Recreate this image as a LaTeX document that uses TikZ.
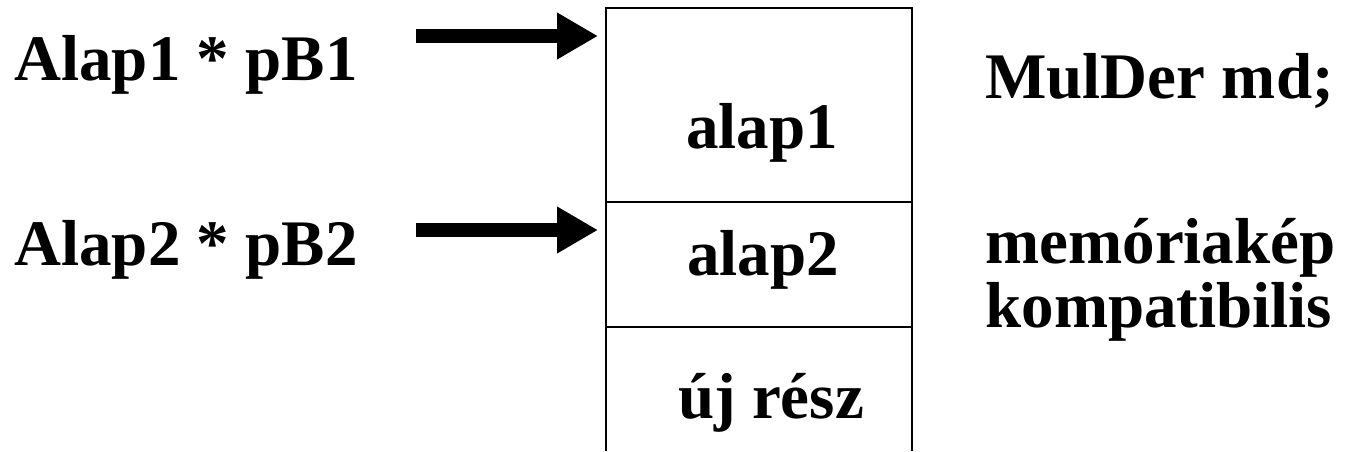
\documentclass[tikz,border=0pt]{standalone}
\usepackage{fontspec}
\setmainfont{Liberation Serif}
\usepackage{tikz}
\usetikzlibrary{positioning,arrows.meta}

\begin{document}
\begin{tikzpicture}[%
x=0.5pt,y=-0.5pt,%
cell/.style={draw,line width=1.4pt,minimum width=153pt,outer sep=0pt,inner sep=0pt},%
lbl/.style={font=\fontsize{32.5}{32}\selectfont\bfseries,inner sep=0pt},%
fat/.style={line width=7pt,-{Triangle[length=20.5pt,width=22pt]},shorten >=4pt},%
node distance=0pt,%
  ]
    \useasboundingbox (0,0) rectangle (1346,451);

    % memory layout of the object
    \node[cell, minimum height=97pt] (c1) at (759,105) {};
    \node[cell, minimum height=62.5pt] (c2) [below=of c1] {};
    \coordinate (bl) at (c2.south west |- 0,451);
    \coordinate (br) at (c2.south east |- 0,451);
    \draw[line width=1.4pt] (c2.south west) -- (bl);
    \draw[line width=1.4pt] (c2.south east) -- (br);

    \node[lbl, anchor=base] (t1) at (762,148) {alap1};
    \node[lbl, anchor=base] (t2) at (763,275) {alap2};
    \node[lbl, anchor=base] (t3) at (771,418) {új rész};

    % pointers
    \node[lbl, anchor=base west] (p1) at (14,80) {Alap1 * pB1};
    \node[lbl, anchor=base west] (p2) at (14,265) {Alap2 * pB2};

    \coordinate (s1) at (416,36);
    \coordinate (s2) at (416,230);
        \draw[fat] (s1) -- (c1.west |- s1);
        \draw[fat] (s2) -- (c2.west |- s2);

    % notes on the right
    \node[lbl, anchor=base west] (n1) at (985,98) {MulDer md;};
    \node[lbl, anchor=base west] (n2) at (985,263) {memóriakép};
    \node[lbl, anchor=base west] (n3) at (985,327) {kompatibilis};
  \end{tikzpicture}
\end{document}
